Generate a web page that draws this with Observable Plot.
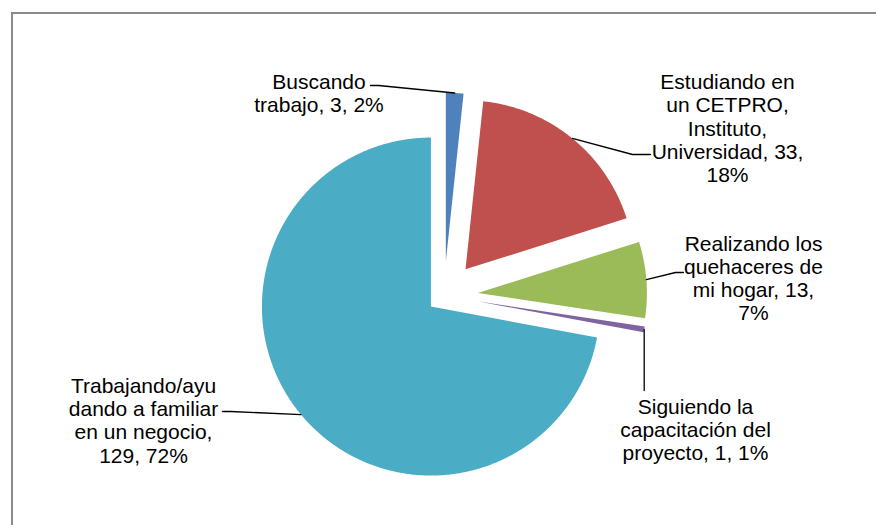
<!DOCTYPE html>
<html><head><meta charset="utf-8">
<script src="https://cdn.jsdelivr.net/npm/d3@7"></script>
<script src="https://cdn.jsdelivr.net/npm/@observablehq/plot@0.6"></script>
<style>
html,body{margin:0;padding:0;background:#fff;overflow:hidden;}
#wrap{position:relative;width:876px;height:525px;overflow:hidden;background:#fff;}
#chart{position:absolute;left:0;top:0;}
#frame{position:absolute;left:11px;top:12px;width:900px;height:600px;border-left:2px solid #8a8a8a;border-top:2px solid #8a8a8a;}
</style></head><body>
<div id="wrap"><div id="chart"></div><div id="frame"></div></div>
<script>
// ---- data ----
const categories = [
  "Buscando trabajo",
  "Estudiando en un CETPRO, Instituto, Universidad",
  "Realizando los quehaceres de mi hogar",
  "Siguiendo la capacitación del proyecto",
  "Trabajando/ayudando a familiar en un negocio"
];
const values = [3, 33, 13, 1, 129];
const labelTexts = [
  "Buscando\ntrabajo, 3, 2%",
  "Estudiando en\nun CETPRO,\nInstituto,\nUniversidad, 33,\n18%",
  "Realizando los\nquehaceres de\nmi hogar, 13,\n7%",
  "Siguiendo la\ncapacitación del\nproyecto, 1, 1%",
  "Trabajando/ayu\ndando a familiar\nen un negocio,\n129, 72%"
];
const colors = ["#4F81BD", "#C0504D", "#9BBB59", "#8064A2", "#4BACC6"];

// ---- layout (pixels) ----
const W = 876, H = 525;
const cx = 443.5, cy = 295.2, R = 169;
const explode = [34, 34, 34, 34, 17];
const labelPos = [ [318.5, 72], [727, 72], [753, 233.5], [695, 396.8], [143, 375.8] ];
const leaderPts = [
  [[378, 85], [370, 85]],
  [[632, 154], [650, 154]],
  [[675, 272], [683, 272]],
  [[643.7, 360], [643.7, 390]],
  [[230, 411], [222, 411]]
];

// ---- geometry from data ----
const arcs = d3.pie().sort(null).value(d => d)(values);
const pt = (a, r, ox, oy) => ({x: cx + ox + r * Math.sin(a), y: cy + oy - r * Math.cos(a)});

const sliceRows = [];
const leaderRows = [];
arcs.forEach((a, i) => {
  const mid = (a.startAngle + a.endAngle) / 2;
  const ox = explode[i] * Math.sin(mid), oy = -explode[i] * Math.cos(mid);
  const cat = categories[i];
  sliceRows.push({cat, ...pt(0, 0, ox, oy)});
  const step = Math.PI / 720;
  const n = Math.max(2, Math.ceil((a.endAngle - a.startAngle) / step));
  for (let k = 0; k <= n; k++) {
    const ang = a.startAngle + (a.endAngle - a.startAngle) * k / n;
    sliceRows.push({cat, ...pt(ang, R, ox, oy)});
  }
  const s = pt(mid, R, ox, oy);
  leaderRows.push({i, x: s.x, y: s.y});
  leaderPts[i].forEach(([x, y]) => leaderRows.push({i, x, y}));
});

const labelRows = labelTexts.map((t, i) => ({text: t, x: labelPos[i][0], y: labelPos[i][1]}));

const font = "'Liberation Sans', Arial, sans-serif";
const chart = Plot.plot({
  width: W, height: H, margin: 0,
  style: {background: "transparent", fontFamily: font},
  x: {domain: [0, W], range: [0, W], axis: null},
  y: {domain: [0, H], range: [0, H], axis: null},
  color: {type: "ordinal", domain: categories, range: colors},
  marks: [
    Plot.line(sliceRows, {x: "x", y: "y", z: "cat", fill: "cat", stroke: "none", curve: "linear-closed"}),
    Plot.line(leaderRows, {x: "x", y: "y", z: "i", stroke: "#000", strokeWidth: 1.3}),
    Plot.text(labelRows, {x: "x", y: "y", text: "text", textAnchor: "middle", lineAnchor: "top",
      lineHeight: 1.11, fontSize: 21, fill: "#000", fontFamily: font})
  ]
});
document.getElementById("chart").appendChild(chart);
</script>
</body></html>
